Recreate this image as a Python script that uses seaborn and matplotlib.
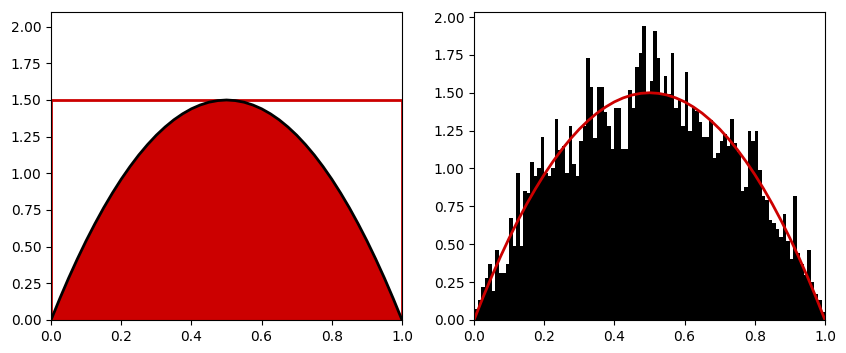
import numpy as np
import pandas as pd
import matplotlib
matplotlib.use("Agg")
import matplotlib.pyplot as plt
import seaborn as sns

# target density curve
curve_x = [0.000, 0.025, 0.050, 0.075, 0.100, 0.125, 0.150, 0.175, 0.200, 0.225,
           0.250, 0.275, 0.300, 0.325, 0.350, 0.375, 0.400, 0.425, 0.450, 0.475,
           0.500, 0.525, 0.550, 0.575, 0.600, 0.625, 0.650, 0.675, 0.700, 0.725,
           0.750, 0.775, 0.800, 0.825, 0.850, 0.875, 0.900, 0.925, 0.950, 0.975,
           1.000]
curve_y = [0.000, 0.146, 0.285, 0.416, 0.540, 0.656, 0.765, 0.866, 0.960, 1.046,
           1.125, 1.196, 1.260, 1.316, 1.365, 1.406, 1.440, 1.466, 1.485, 1.496,
           1.500, 1.496, 1.485, 1.466, 1.440, 1.406, 1.365, 1.316, 1.260, 1.196,
           1.125, 1.046, 0.960, 0.866, 0.765, 0.656, 0.540, 0.416, 0.285, 0.146,
           0.000]

# envelope box of the rejection sampler
box_height = 1.5

# histogram of accepted samples (100 bins on [0, 1], density)
bin_centers = [0.005 + 0.01 * i for i in range(100)]
bin_heights = [
    0.07, 0.13, 0.22, 0.28, 0.37, 0.19, 0.46, 0.31, 0.31, 0.37,
    0.67, 0.49, 0.97, 0.49, 0.85, 0.84, 1.04, 0.95, 1.00, 1.21,
    0.97, 0.95, 1.00, 1.33, 1.12, 1.15, 0.97, 1.28, 1.03, 0.95,
    1.18, 1.28, 1.73, 1.54, 1.20, 1.54, 1.54, 1.37, 1.28, 1.13,
    1.40, 1.40, 1.13, 1.13, 1.52, 1.40, 1.67, 1.76, 1.94, 1.49,
    1.58, 1.91, 1.73, 1.49, 1.61, 1.49, 1.76, 1.40, 1.46, 1.28,
    1.64, 1.25, 1.40, 1.38, 1.31, 1.21, 1.21, 1.32, 1.07, 1.10,
    1.18, 1.23, 1.15, 1.33, 1.17, 1.11, 0.85, 0.88, 1.25, 1.18,
    1.25, 0.99, 0.82, 0.79, 0.66, 0.64, 0.60, 0.55, 0.70, 0.52,
    0.40, 0.82, 0.44, 0.37, 0.30, 0.46, 0.25, 0.17, 0.13, 0.05,
]

RED = "#cc0000"

curve = pd.DataFrame({"x": curve_x, "y": curve_y})
hist = pd.DataFrame({"x": bin_centers, "h": bin_heights})

fig = plt.figure(figsize=(8.46, 3.53), dpi=100)
ax1 = fig.add_axes([0.0603, 0.0935, 0.4149, 0.8725])
ax2 = fig.add_axes([0.5603, 0.0935, 0.4149, 0.8725])

# --- left: accepted points fill the area under the curve ---
ax1.fill_between(curve["x"], 0, curve["y"], color=RED, linewidth=0)
ax1.plot([0, 0, 1, 1], [0, box_height, box_height, 0], color=RED, lw=2)
sns.lineplot(data=curve, x="x", y="y", color="black", lw=2, ax=ax1)
ax1.set_xlim(0, 1)
ax1.set_ylim(0, 2.1)
ax1.set_yticks(np.arange(0, 2.01, 0.25))
ax1.set_xlabel("")
ax1.set_ylabel("")

# --- right: histogram of samples vs target density ---
sns.histplot(data=hist, x="x", weights="h", bins=100, binrange=(0, 1),
             color="black", alpha=1, linewidth=0, ax=ax2)
sns.lineplot(data=curve, x="x", y="y", color=RED, lw=2, ax=ax2)
ax2.set_xlim(0, 1)
ax2.set_ylim(0, 2.033)
ax2.set_yticks(np.arange(0, 2.01, 0.25))
ax2.set_xlabel("")
ax2.set_ylabel("")

fig.savefig("out.png", dpi=100)
